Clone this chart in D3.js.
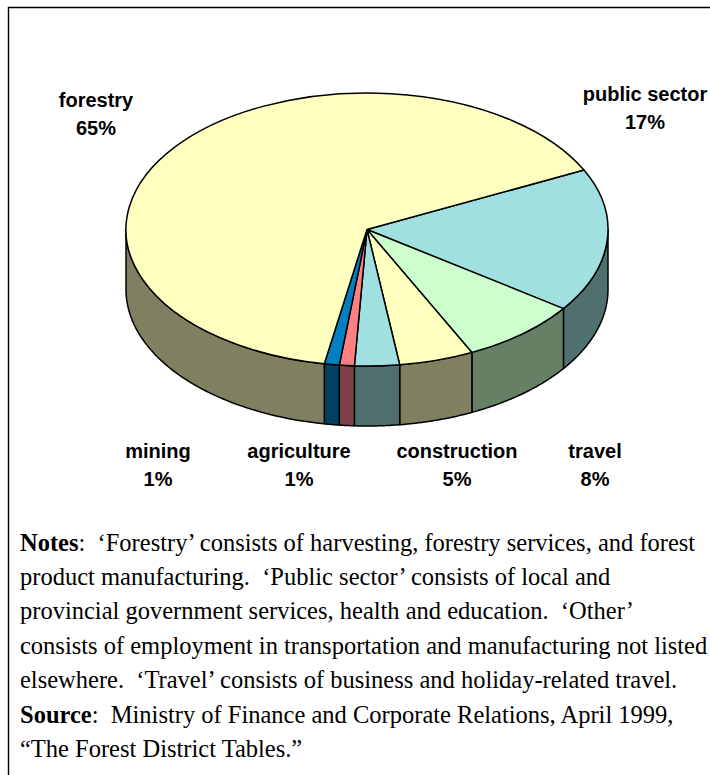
<!DOCTYPE html>
<html>
<head>
<meta charset="utf-8">
<script src="https://cdn.jsdelivr.net/npm/d3@7/dist/d3.min.js"></script>
<style>
html,body{margin:0;padding:0;background:#fff;}
svg{display:block;}
</style>
</head>
<body>
<svg id="chart" width="710" height="775"></svg>
<script>
// Employment shares by sector, clockwise from the public sector slice
const sectors = ["public sector", "travel", "construction", "other", "agriculture", "mining", "forestry"];
const shares = [17, 8, 5, 3, 1, 1, 65];
const topColors = ["#a0e0e0", "#ccffcc", "#ffffc0", "#a0e0e0", "#ff8080", "#0080c0", "#ffffc0"];
const sideColors = ["#507070", "#668066", "#808060", "#507070", "#804048", "#004060", "#808060"];

// Sector captions; the "other" slice carries none
const labelSectors = ["forestry", "public sector", "mining", "agriculture", "construction", "travel"];
const labelCentres = [96, 645, 158, 299, 457, 595];
const labelBaselines = [107, 101, 458, 458, 458, 458];

const noteLines = [
  [["Notes", true], [":  ‘Forestry’ consists of harvesting, forestry services, and forest", false]],
  [["product manufacturing.  ‘Public sector’ consists of local and", false]],
  [["provincial government services, health and education.  ‘Other’", false]],
  [["consists of employment in transportation and manufacturing not listed", false]],
  [["elsewhere.  ‘Travel’ consists of business and holiday-related travel.", false]],
  [["Source", true], [":  Ministry of Finance and Corporate Relations, April 1999,", false]],
  [["“The Forest District Tables.”", false]]
];

const svg = d3.select("#chart");

// Page frame, open along the bottom and right edges of the window
svg.append("path")
  .attr("d", d3.line()([[8.5, 775], [8.5, 7.5], [710, 7.5]]))
  .attr("fill", "none").attr("stroke", "#000").attr("stroke-width", 1.4);

// Tilted pie geometry
const cx = 367, cy = 229.5, rx = 241, ry = 136.5, depth = 60;
const startDeg = 64.2;
const toRad = Math.PI / 180;

const pie = d3.pie().sort(null).value(d => d.share)
  .startAngle(startDeg * toRad)
  .endAngle((startDeg + 360) * toRad);
const slices = pie(sectors.map((name, i) => ({name, share: shares[i], top: topColors[i], side: sideColors[i]})));

const px = a => cx + rx * Math.sin(a);
const py = a => cy - ry * Math.cos(a);
const line = d3.line();

// Side wall: only the front half of the rim (90° to 270°) is visible
const wall = svg.append("g");
slices.forEach(s => {
  [0, 1].forEach(turn => {
    const lo = Math.max(s.startAngle, Math.PI / 2 + turn * 2 * Math.PI);
    const hi = Math.min(s.endAngle, 3 * Math.PI / 2 + turn * 2 * Math.PI);
    if (hi <= lo) return;
    const rim = d3.range(0, 61).map(k => lo + (hi - lo) * k / 60);
    const upper = rim.map(a => [px(a), py(a)]);
    const lower = rim.slice().reverse().map(a => [px(a), py(a) + depth]);
    wall.append("path")
      .attr("d", line(upper.concat(lower)) + "Z")
      .attr("fill", s.data.side)
      .attr("stroke", "#000").attr("stroke-width", 1.5).attr("stroke-linejoin", "round");
  });
});

// Top face: circular arcs squashed into an ellipse
const arc = d3.arc().innerRadius(0).outerRadius(rx);
svg.append("g")
  .attr("transform", `translate(${cx},${cy}) scale(1,${ry / rx})`)
  .selectAll("path").data(slices).join("path")
  .attr("d", arc)
  .attr("fill", d => d.data.top)
  .attr("stroke", "#000").attr("stroke-width", 1.5).attr("stroke-linejoin", "round")
  .attr("vector-effect", "non-scaling-stroke");

// Sector captions with their percentages
const labels = svg.append("g")
  .attr("font-family", "'Liberation Sans', Arial, sans-serif")
  .attr("font-weight", "bold").attr("font-size", 20)
  .attr("text-anchor", "middle").attr("fill", "#000");
labelSectors.forEach((name, i) => {
  const share = shares[sectors.indexOf(name)];
  labels.append("text").attr("x", labelCentres[i]).attr("y", labelBaselines[i]).text(name);
  labels.append("text").attr("x", labelCentres[i]).attr("y", labelBaselines[i] + 28).text(share + "%");
});

// Notes block beneath the pie
const notes = svg.append("g")
  .attr("font-family", "'Liberation Serif', 'Times New Roman', serif")
  .attr("font-size", 24.5).attr("fill", "#000");
const firstBaseline = 550.5, leading = 34.4;
noteLines.forEach((runs, i) => {
  const t = notes.append("text").attr("x", 20).attr("y", firstBaseline + i * leading).style("white-space", "pre");
  runs.forEach(([txt, strong]) => {
    t.append("tspan").attr("font-weight", strong ? "bold" : "normal").text(txt);
  });
});
</script>
</body>
</html>
